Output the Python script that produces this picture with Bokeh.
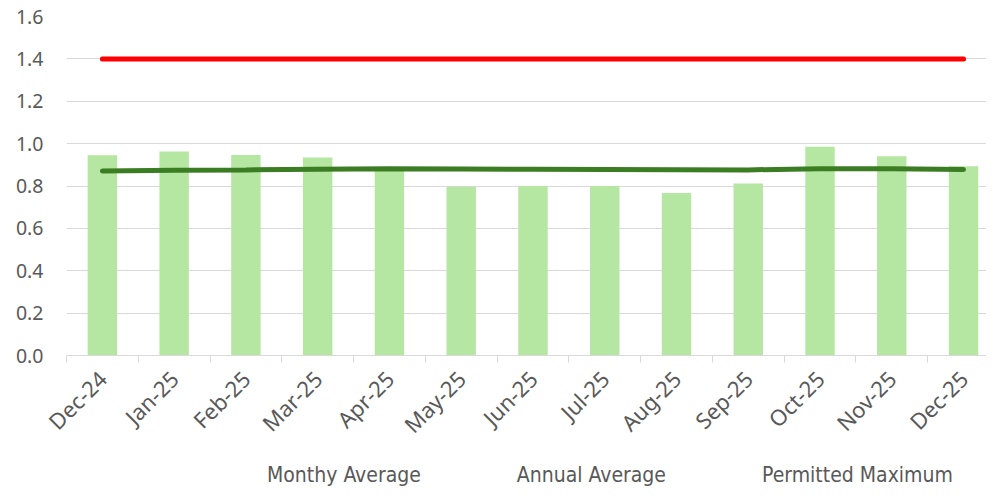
import math
from bokeh.plotting import figure
from bokeh.layouts import column
from bokeh.models import (ColumnDataSource, Legend, LegendItem, LinearAxis,
                          Range1d, FixedTicker, CustomJSTickFormatter)
from bokeh.embed import file_html
from bokeh.resources import INLINE

months = ["Dec-24", "Jan-25", "Feb-25", "Mar-25", "Apr-25", "May-25", "Jun-25",
          "Jul-25", "Aug-25", "Sep-25", "Oct-25", "Nov-25", "Dec-25"]
monthly_avg = [0.945, 0.963, 0.946, 0.935, 0.880, 0.797, 0.800, 0.800, 0.767, 0.812, 0.985, 0.940, 0.893]
annual_avg = [0.871, 0.874, 0.876, 0.879, 0.881, 0.880, 0.879, 0.878, 0.877, 0.876, 0.882, 0.882, 0.878]
permitted_max = [1.4] * 13
y_ticks = [0.0, 0.2, 0.4, 0.6, 0.8, 1.0, 1.2, 1.4, 1.6]

n = len(months)
xpos = [i + 0.5 for i in range(n)]
src = ColumnDataSource(dict(x=xpos, m=months, v=monthly_avg, a=annual_avg, p=permitted_max))

FONT = "Noto Sans"
LEG_FONT = "DejaVu Sans Condensed"
TXT = "#595959"
GRID = "#D9D9D9"
BAR_C = "#B5E6A2"
ANN_C = "#3B7D23"
MAX_C = "#FF0000"

p = figure(x_range=Range1d(0, 12.82), y_range=Range1d(0, 1.6),
           width=986, height=452,
           output_backend="svg", toolbar_location=None, x_axis_location=None,
           min_border_left=66, min_border_right=0, min_border_top=16, min_border_bottom=89)
p.outline_line_color = None
p.xgrid.grid_line_color = None
p.ygrid.grid_line_color = GRID
p.ygrid.grid_line_width = 1

yax = p.yaxis[0]
yax.ticker = FixedTicker(ticks=y_ticks, minor_ticks=[])
yax.formatter = CustomJSTickFormatter(code="return tick.toFixed(1);")
yax.axis_line_color = None
yax.major_tick_line_color = None
yax.major_tick_out = 0
yax.major_tick_in = 0
yax.minor_tick_line_color = None
yax.major_label_standoff = 23
yax.major_label_text_font = FONT
yax.major_label_text_font_size = "19.5px"
yax.major_label_text_color = TXT

# category axis: labels at centres, minor ticks at the category boundaries
cax = LinearAxis(ticker=FixedTicker(ticks=xpos, minor_ticks=list(range(n + 1))),
                 formatter=CustomJSTickFormatter(args=dict(months=months),
                                                 code="return months[Math.floor(tick)];"),
                 axis_line_color=GRID, major_tick_line_color=None,
                 major_tick_out=7, major_tick_in=0,
                 minor_tick_line_color=GRID, minor_tick_out=7, minor_tick_in=0,
                 major_label_orientation=math.pi / 4,
                 major_label_text_font=FONT, major_label_text_font_size="22px",
                 major_label_text_color=TXT, major_label_standoff=12)
p.add_layout(cax, "below")

p.vbar(x="x", top="v", width=0.41, source=src, fill_color=BAR_C, line_color=None)
p.line(x="x", y="a", source=src, line_color=ANN_C, line_width=5, line_cap="round")
p.line(x="x", y="p", source=src, line_color=MAX_C, line_width=5, line_cap="round")

# legend strip (separate figure so it sits below the rotated labels)
lf = figure(width=986, height=35, x_range=Range1d(0, 1), y_range=Range1d(0, 1),
            output_backend="svg", toolbar_location=None,
            x_axis_location=None, y_axis_location=None,
            min_border_left=0, min_border_right=0, min_border_top=0, min_border_bottom=0)
lf.outline_line_color = None
lf.xgrid.grid_line_color = None
lf.ygrid.grid_line_color = None
empty = ColumnDataSource(dict(x=[], y=[], top=[]))
lb = lf.vbar(x="x", top="top", width=0.4, source=empty, fill_color=BAR_C, line_color=None)
la = lf.line(x="x", y="y", source=empty, line_color=ANN_C, line_width=5, line_cap="round")
lm = lf.line(x="x", y="y", source=empty, line_color=MAX_C, line_width=5, line_cap="round")

legend = Legend(items=[LegendItem(label="Monthy Average", renderers=[lb]),
                       LegendItem(label="Annual Average", renderers=[la]),
                       LegendItem(label="Permitted Maximum", renderers=[lm])],
                orientation="horizontal", location=(144, 0),
                glyph_width=52, glyph_height=14, label_standoff=5, spacing=39,
                label_text_font=LEG_FONT, label_text_font_size="21px",
                label_text_color=TXT, border_line_color=None, background_fill_alpha=0,
                padding=0, margin=0)
lf.add_layout(legend, "center")

layout = column(p, lf, spacing=0)
open("out.html", "w").write(file_html(layout, INLINE))
